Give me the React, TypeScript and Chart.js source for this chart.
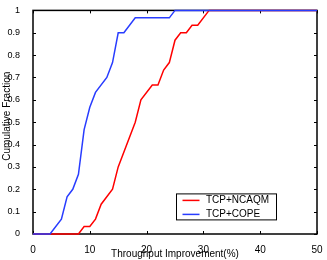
import React, { useEffect, useRef } from "react";
import { Chart, registerables } from "chart.js";

Chart.register(...registerables);

const ncaqmX = [0, 8, 9, 10, 11, 12, 14, 15, 18, 19, 21, 22, 23, 24, 25, 26, 27, 28, 29, 31, 50];
const ncaqmY = [0, 0, 0.0333, 0.0333, 0.0667, 0.1333, 0.2, 0.3, 0.5, 0.6, 0.6667, 0.6667, 0.7333, 0.7667, 0.8667, 0.9, 0.9, 0.9333, 0.9333, 1, 1];
const copeX = [0, 3, 5, 6, 7, 8, 9, 10, 11, 13, 14, 15, 16, 18, 24, 25, 50];
const copeY = [0, 0, 0.0667, 0.1667, 0.2, 0.2667, 0.4667, 0.5667, 0.6333, 0.7, 0.7667, 0.9, 0.9, 0.9667, 0.9667, 1, 1];
const seriesLabels = ["TCP+NCAQM", "TCP+COPE"];
const seriesColors = ["#ff0000", "rgb(40,60,255)"];
const xTitle = "Throughput Improvement(%)";
const yTitle = "Cumulative Fraction";

const FONT = "'Liberation Sans', Arial, Helvetica, sans-serif";

const boxPlugin = {
  id: "matlabBox",
  beforeDatasetsDraw(chart: any) {
    const { ctx, chartArea: a, scales } = chart;
    ctx.save();
    ctx.strokeStyle = "#000";
    ctx.lineWidth = 1.5;
    ctx.strokeRect(a.left, a.top, a.right - a.left, a.bottom - a.top);
    ctx.lineWidth = 1;
    const tl = 3;
    ctx.beginPath();
    scales.x.ticks.forEach((t: any) => {
      const px = Math.round(scales.x.getPixelForValue(t.value)) + 0.5;
      ctx.moveTo(px, a.bottom);
      ctx.lineTo(px, a.bottom - tl);
      ctx.moveTo(px, a.top);
      ctx.lineTo(px, a.top + tl);
    });
    scales.y.ticks.forEach((t: any) => {
      const py = Math.round(scales.y.getPixelForValue(t.value)) + 0.5;
      ctx.moveTo(a.left, py);
      ctx.lineTo(a.left + tl, py);
      ctx.moveTo(a.right, py);
      ctx.lineTo(a.right - tl, py);
    });
    ctx.stroke();
    // y axis title
    ctx.save();
    ctx.font = "10px " + FONT;
    ctx.fillStyle = "#000";
    ctx.textAlign = "center";
    ctx.textBaseline = "middle";
    ctx.translate(7, (a.top + a.bottom) / 2 - 6);
    ctx.rotate(-Math.PI / 2);
    ctx.fillText(yTitle, 0, 0);
    ctx.restore();
    ctx.restore();
  },
  afterDraw(chart: any) {
    const { ctx, chartArea: a } = chart;
    const x0 = a.left + 143;
    const y0 = a.top + 183;
    const w = 100;
    const h = 26;
    ctx.save();
    ctx.fillStyle = "#fff";
    ctx.fillRect(x0, y0, w, h);
    ctx.strokeStyle = "#000";
    ctx.lineWidth = 1;
    ctx.strokeRect(x0 + 0.5, y0 + 0.5, w, h);
    ctx.font = "10px " + FONT;
    ctx.textBaseline = "middle";
    ctx.textAlign = "left";
    chart.data.datasets.forEach((ds: any, i: number) => {
      const cy = y0 + 7 + i * 14;
      ctx.strokeStyle = ds.borderColor;
      ctx.lineWidth = 1.5;
      ctx.beginPath();
      ctx.moveTo(x0 + 6.5, cy);
      ctx.lineTo(x0 + 23.5, cy);
      ctx.stroke();
      ctx.fillStyle = "#000";
      ctx.fillText(ds.label, x0 + 30, cy);
    });
    ctx.restore();
  },
};

export default function App() {
  const ref = useRef<HTMLCanvasElement>(null);
  useEffect(() => {
    document.body.style.margin = "0";
    const canvas = ref.current!;
    const chart = new Chart(canvas, {
      type: "line",
      data: {
        datasets: [
          {
            label: seriesLabels[0],
            data: ncaqmX.map((x, i) => ({ x, y: ncaqmY[i] })),
            borderColor: seriesColors[0],
            backgroundColor: seriesColors[0],
            borderWidth: 1.5,
            pointRadius: 0,
            tension: 0,
            clip: 3,
            order: 1,
          },
          {
            label: seriesLabels[1],
            data: copeX.map((x, i) => ({ x, y: copeY[i] })),
            borderColor: seriesColors[1],
            backgroundColor: seriesColors[1],
            borderWidth: 1.5,
            pointRadius: 0,
            tension: 0,
            clip: 3,
            order: 0,
          },
        ],
      },
      options: {
        animation: false,
        responsive: false,
        devicePixelRatio: 1,
        layout: { padding: { top: 8, right: 10, left: 0, bottom: 0 } },
        plugins: { legend: { display: false }, tooltip: { enabled: false } },
        font: { family: FONT, size: 10 } as any,
        color: "#000",
        scales: {
          x: {
            type: "linear",
            min: 0,
            max: 50,
            ticks: { stepSize: 10, padding: 2, color: "#000", font: { family: FONT, size: 10 }, maxRotation: 0 },
            grid: { display: false },
            border: { display: false },
            title: { display: true, text: xTitle, color: "#000", font: { family: FONT, size: 10 }, padding: { top: 1.3, bottom: 0 } },
            afterFit: (s: any) => { s.height = 26; },
          },
          y: {
            type: "linear",
            min: 0,
            max: 1,
            ticks: {
              stepSize: 0.1,
              padding: 5,
              color: "#000",
              font: { family: FONT, size: 9 },
              callback: (v: any) => String(Number(Number(v).toFixed(1))),
            },
            grid: { display: false },
            border: { display: false },
            title: { display: false },
            afterFit: (s: any) => { s.width = 33; },
          },
        },
      },
      plugins: [boxPlugin],
    });
    return () => chart.destroy();
  }, []);
  return (
    <div style={{ width: 327, height: 260 }}>
      <canvas ref={ref} width={327} height={260} style={{ display: "block" }} />
    </div>
  );
}
